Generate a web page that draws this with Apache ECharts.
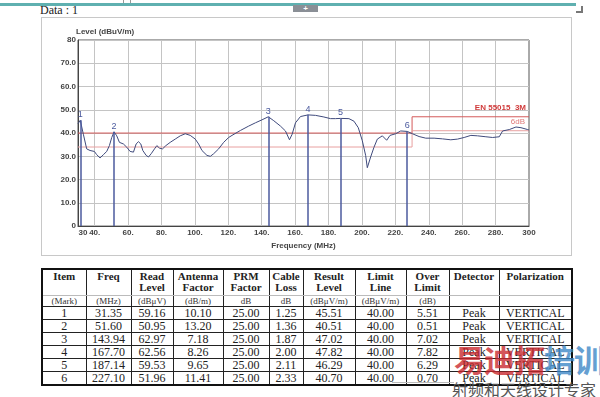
<!DOCTYPE html>
<html lang="en">
<head>
<meta charset="utf-8">
<title>Radiated emission - Data 1</title>
<script src="https://cdn.jsdelivr.net/npm/echarts@6.0.0/dist/echarts.min.js"></script>
<style>
  html, body { margin: 0; padding: 0; background: #fff; }
  body { width: 600px; height: 397px; position: relative; overflow: hidden; }
  .topline { position: absolute; left: 0; top: 3px; width: 576px; height: 3px; background: #5fb0b0; }
  .topcell { position: absolute; top: 0; width: 1px; height: 3px; background: #999; }
  .tab { position: absolute; left: 293px; top: 5px; width: 25px; height: 7px; background: #8a8f96;
         color: #fff; font: bold 8px "Liberation Sans", sans-serif; line-height: 7px; text-align: center; }
  .grip { position: absolute; left: 576px; top: 6px; width: 5px; height: 5px;
          border-right: 2px solid #777; border-bottom: 2px solid #777; }
  .caption { position: absolute; left: 40px; top: 3px; font: 12px "Liberation Serif", serif; color: #222; }
  .box { position: absolute; left: 41px; top: 17px; width: 529px; height: 237px; border: 1px solid #c8c8c8; }
  #main { position: absolute; left: 0; top: 0; width: 529px; height: 237px; }
  table { position: absolute; left: 41px; top: 268px; width: 530px; border-collapse: collapse; table-layout: fixed;
          border: 2px solid #111; font-family: "Liberation Serif", serif; color: #222; }
  td, th { border-left: 1px solid #222; border-right: 1px solid #222; text-align: center; padding: 0; }
  th { font-weight: bold; font-size: 11px; line-height: 11px; height: 24px; vertical-align: top; padding-top: 1px;
       border-bottom: 1px solid #bbb; }
  tr.unit td { font-size: 9px; height: 10px; line-height: 10px; border-bottom: 1px solid #222; color: #333; }
  tr.row td { font-size: 12px; height: 12px; line-height: 12px; border-bottom: 1px solid #222; }
  .wm1 { position: absolute; left: 454px; top: 336px; font: bold 31px "Noto Sans CJK SC", sans-serif; letter-spacing: -1px;
         white-space: nowrap; opacity: 0.78; }
  .wm1 .r { color: #c8262c; } .wm1 .b { color: #3b86c6; }
  .wm2 { position: absolute; left: 452px; top: 377px; font: 16px "Noto Sans CJK SC", sans-serif; color: #555; white-space: nowrap; }
  .wmline { position: absolute; left: 392px; top: 382px; width: 62px; height: 1px; background: #bbb; }
</style>
</head>
<body>
<div class="topcell" style="left:123px"></div>
<div class="topcell" style="left:130px"></div>
<div class="topline"></div>
<div class="tab">+</div>
<div class="grip"></div>
<div class="caption">Data : 1</div>
<div class="box"><div id="main"></div></div>

<table id="tbl"></table>

<div class="wmline"></div>
<div class="wm1"><span class="r">易迪拓</span><span class="b">培训</span></div>
<div class="wm2">射频和天线设计专家</div>

<script type="text/javascript">
  // 扫描曲线 (MHz / dBuV/m)
  var traceFreq = [30, 31.35, 33.2, 35.2, 37.2, 39.8, 41.2, 43.2, 45.2, 47.2, 48.8, 50.2, 51.6, 53.2, 54.8,
    57.2, 59.2, 61.2, 63.2, 64.8, 66.2, 67.6, 68.8, 70.8, 72.2, 73.8, 75.8, 77.2, 78.8, 80.6, 82.6, 85.2,
    88.2, 91.2, 94.2, 97.2, 100.2, 102.2, 104.2, 107.2, 109.2, 111.2, 114.2, 117.2, 120.2, 122.2, 127.2,
    132.2, 136.2, 140.2, 143.94, 147.2, 151.2, 154.2, 156.6, 158.2, 160.2, 163.2, 167.7, 172.2, 177.2,
    181.2, 184.2, 187.14, 192.2, 195.2, 197.8, 200.2, 202.2, 203.2, 205.2, 207.2, 209.2, 212.2, 214.8,
    216.8, 220.2, 223.2, 227.1, 230.2, 234.2, 238.2, 243.2, 248.2, 253.2, 257.2, 261.2, 265.2, 269.2,
    274.2, 278.2, 282.2, 284.2, 288.2, 292.2, 295.2, 299.2, 300];
  var traceLevel = [44.0, 45.5, 39.5, 33.2, 32.5, 32.1, 30.7, 29.3, 30.7, 32.1, 34.6, 38.1, 40.5, 38.8, 36.0,
    35.3, 33.9, 32.1, 31.8, 35.3, 36.3, 35.3, 32.5, 30.4, 29.7, 31.1, 33.2, 34.6, 33.5, 33.2, 34.6, 36.0,
    37.4, 38.8, 39.7, 39.0, 37.4, 35.3, 32.5, 30.4, 30.0, 31.1, 33.2, 36.0, 38.1, 39.0, 41.1,
    43.0, 44.4, 45.7, 47.0, 45.3, 43.0, 40.9, 37.1, 39.5, 44.4, 47.1, 47.8, 47.6, 46.9,
    46.2, 46.2, 46.3, 46.2, 45.1, 42.3, 36.7, 30.4, 25.1, 29.7, 33.9, 37.4, 38.8, 36.9,
    39.0, 39.7, 40.9, 40.7, 39.7, 38.5, 37.8, 37.8, 37.5, 37.1, 37.4, 38.1, 39.0, 38.8,
    38.4, 38.1, 38.4, 40.9, 41.5, 42.6, 42.3, 41.5, 41.3];

  // 限值线 EN 55015 3M 及 -6dB 余量线
  var limitFreq = [30, 230, 230, 300];
  var limitLevel = [40, 40, 47, 47];
  var marginLevel = [34, 34, 41, 41];

  var xLabelValues = [30, 40, 60, 80, 100, 120, 140, 160, 180, 200, 220, 240, 260, 280, 300];
  var xGridValues = [40, 60, 80, 100, 120, 140, 160, 180, 200, 220, 240, 260, 280];

  // 表格数据
  var items = ['1', '2', '3', '4', '5', '6'];
  var markFreq = [31.35, 51.60, 143.94, 167.70, 187.14, 227.10];
  var readLevel = ['59.16', '50.95', '62.97', '62.56', '59.53', '51.96'];
  var antFactor = ['10.10', '13.20', '7.18', '8.26', '9.65', '11.41'];
  var prmFactor = ['25.00', '25.00', '25.00', '25.00', '25.00', '25.00'];
  var cableLoss = ['1.25', '1.36', '1.87', '2.00', '2.11', '2.33'];
  var resultLevel = [45.51, 40.51, 47.02, 47.82, 46.29, 40.70];
  var limitLine = ['40.00', '40.00', '40.00', '40.00', '40.00', '40.00'];
  var overLimit = ['5.51', '0.51', '7.02', '7.82', '6.29', '0.70'];
  var detector = ['Peak', 'Peak', 'Peak', 'Peak', 'Peak', 'Peak'];
  var polarization = ['VERTICAL', 'VERTICAL', 'VERTICAL', 'VERTICAL', 'VERTICAL', 'VERTICAL'];

  var headTitles = ['Item', 'Freq', 'Read<br>Level', 'Antenna<br>Factor', 'PRM<br>Factor', 'Cable<br>Loss',
    'Result<br>Level', 'Limit<br>Line', 'Over<br>Limit', 'Detector', 'Polarization'];
  var headUnits = ['(Mark)', '(MHz)', '(dB&mu;V)', '(dB/m)', 'dB', 'dB', '(dB&mu;V/m)', '(dB&mu;V/m)', '(dB)', '', ''];
  var colWidths = [44, 45, 42, 50, 46, 34, 52, 51, 43, 50, 73];

  function zip(a, b) {
    return a.map(function (v, i) { return [v, b[i]]; });
  }

  // 表格
  var html = '<colgroup>';
  colWidths.forEach(function (w) { html += '<col style="width:' + w + 'px">'; });
  html += '</colgroup><tr>';
  headTitles.forEach(function (t) { html += '<th>' + t + '</th>'; });
  html += '</tr><tr class="unit">';
  headUnits.forEach(function (t) { html += '<td>' + t + '</td>'; });
  html += '</tr>';
  for (let i = 0; i < items.length; i++) {
    let cells = [items[i], markFreq[i].toFixed(2), readLevel[i], antFactor[i], prmFactor[i], cableLoss[i],
      resultLevel[i].toFixed(2), limitLine[i], overLimit[i], detector[i], polarization[i]];
    html += '<tr class="row">';
    cells.forEach(function (c) { html += '<td>' + c + '</td>'; });
    html += '</tr>';
  }
  document.getElementById('tbl').innerHTML = html;

  // 图表
  var myChart = echarts.init(document.getElementById('main'));
  var axisFont = { fontFamily: 'Liberation Sans', fontSize: 8, fontWeight: 'bold', color: '#444' };

  var option = {
    animation: false,
    grid: { left: 36, right: 42, top: 22, bottom: 24, show: true, borderColor: '#555', borderWidth: 1 },
    xAxis: {
      type: 'value', min: 30, max: 300,
      name: 'Frequency (MHz)', nameLocation: 'middle', nameGap: 12,
      nameTextStyle: axisFont,
      axisLine: { lineStyle: { color: '#444' } },
      axisTick: { show: false, customValues: xGridValues },
      splitLine: { show: true, lineStyle: { color: '#c4c4c4', width: 1 } },
      axisLabel: Object.assign({
        margin: 3,
        customValues: xLabelValues,
        formatter: function (v) { return v === 30 ? '{f|30}' : (v === 300 ? '300' : v + '.'); },
        rich: { f: { padding: [0, 0, 0, 10], fontFamily: 'Liberation Sans', fontSize: 8, fontWeight: 'bold', color: '#444' } }
      }, axisFont)
    },
    yAxis: {
      type: 'value', min: 0, max: 80, interval: 10,
      name: 'Level (dBuV/m)', nameLocation: 'end', nameGap: 2,
      nameTextStyle: Object.assign({ align: 'left', padding: [0, 0, 0, -2] }, axisFont),
      axisLine: { show: true, lineStyle: { color: '#444' } },
      axisTick: { show: false },
      splitLine: { show: true, lineStyle: { color: '#c4c4c4', width: 1 } },
      axisLabel: Object.assign({
        margin: 2,
        formatter: function (v) { return (v === 0 || v === 80) ? String(v) : v.toFixed(1); }
      }, axisFont)
    },
    series: [
      {
        name: 'Limit', type: 'line', data: zip(limitFreq, limitLevel), showSymbol: false, silent: true,
        lineStyle: { color: '#d45a5a', width: 1 },
        markPoint: {
          symbol: 'rect', symbolSize: 0, silent: true,
          label: { show: true, position: 'top', align: 'right', offset: [-3, 0], formatter: 'EN 55015  3M',
            fontFamily: 'Liberation Sans', fontSize: 8, fontWeight: 'bold', color: '#d03a3a' },
          data: [{ coord: [300, 47] }]
        }
      },
      {
        name: 'Margin', type: 'line', data: zip(limitFreq, marginLevel), showSymbol: false, silent: true,
        lineStyle: { color: '#e8a0a0', width: 1 },
        markPoint: {
          symbol: 'rect', symbolSize: 0, silent: true,
          label: { show: true, position: 'top', align: 'right', offset: [-4, 0], formatter: '6dB',
            fontFamily: 'Liberation Sans', fontSize: 8, color: '#e07a7a' },
          data: [{ coord: [300, 41] }]
        }
      },
      {
        name: 'Trace', type: 'line', data: zip(traceFreq, traceLevel), showSymbol: false, silent: true,
        lineStyle: { color: '#3f4a7c', width: 1 },
        markLine: {
          symbol: 'none', silent: true,
          lineStyle: { color: '#4b5a9e', width: 1.5, type: 'solid' },
          label: { show: true, position: 'end', distance: 1, formatter: '{b}',
            fontFamily: 'Liberation Sans', fontSize: 9, color: '#4b5a9e' },
          data: markFreq.map(function (f, i) {
            return [{ coord: [f, 0], name: items[i] }, { coord: [f, resultLevel[i]] }];
          })
        }
      }
    ]
  };
  myChart.setOption(option);
</script>
</body>
</html>
